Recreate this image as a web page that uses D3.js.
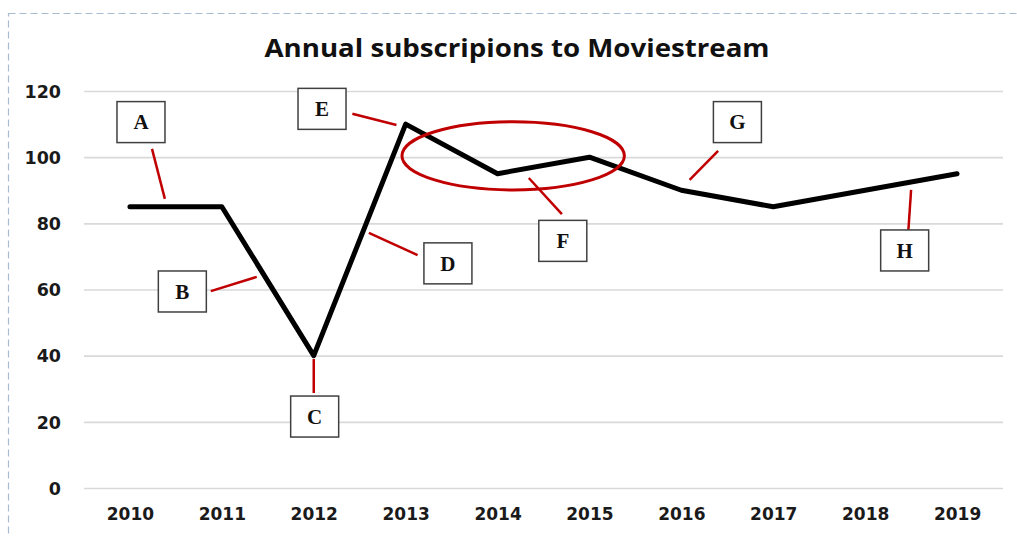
<!DOCTYPE html>
<html>
<head>
<meta charset="utf-8">
<script src="https://cdn.jsdelivr.net/npm/d3@7"></script>
<style>
  body { margin: 0; background: #fff; }
  svg { display: block; }
</style>
</head>
<body>
<svg width="1017" height="536"></svg>
<script>
const years = [2010, 2011, 2012, 2013, 2014, 2015, 2016, 2017, 2018, 2019];
const subscriptions = [85, 85, 40, 110, 95, 100, 90, 85, 90, 95];
const yTicks = [0, 20, 40, 60, 80, 100, 120];

// callout boxes and their leader lines, placed in data units (year, value)
const calloutLetters = ["A", "B", "C", "D", "E", "F", "G", "H"];
const calloutCenters = [[2010.12, 110.6], [2010.57, 59.4], [2012.01, 21.6], [2013.46, 67.9],
                        [2012.09, 114.6], [2014.71, 74.7], [2016.61, 110.6], [2018.43, 71.8]];
const leaderFrom = [[2010.24, 102.5], [2010.88, 59.5], [2012.0, 39.0], [2012.60, 77.1],
                    [2012.42, 113.1], [2014.34, 93.7], [2016.40, 101.9], [2018.50, 90.1]];
const leaderTo = [[2010.38, 87.4], [2011.38, 63.8], [2012.0, 28.7], [2013.13, 70.4],
                  [2012.90, 109.7], [2014.70, 82.8], [2016.09, 93.1], [2018.47, 77.7]];
const ellipseCenter = [2014.17, 100.4];
const ellipseRadii = [1.21, 10.3];

const svg = d3.select("svg");
const margin = {left: 84, right: 14, top: 91, bottom: 48};
const plotW = 1017 - margin.left - margin.right;
const plotH = 536 - margin.top - margin.bottom;

const x = d3.scalePoint().domain(years).range([0, plotW]).padding(0.5);
const step = x.step();
// continuous version of x for callouts
const xc = d3.scaleLinear().domain([years[0], years[0] + 1]).range([x(years[0]), x(years[0]) + step]);
const y = d3.scaleLinear().domain([0, 120]).range([plotH, 0]);

// dashed frame
svg.append("rect")
    .attr("x", 8.5).attr("y", 13.5)
    .attr("width", 1100).attr("height", 700)
    .attr("fill", "none")
    .attr("stroke", "#a9bbd0")
    .attr("stroke-width", 1.2)
    .attr("stroke-dasharray", "7,4");

svg.append("text")
    .attr("x", 517).attr("y", 57)
    .attr("text-anchor", "middle")
    .attr("textLength", 505)
    .attr("lengthAdjust", "spacingAndGlyphs")
    .style("font-family", "'Open Sans', sans-serif")
    .style("font-weight", 700)
    .style("font-size", "25px")
    .attr("fill", "#111")
    .text("Annual subscripions to Moviestream");

const g = svg.append("g").attr("transform", `translate(${margin.left},${margin.top})`);

g.append("g")
    .call(d3.axisLeft(y).tickValues(yTicks).tickSize(-plotW).tickFormat(d3.format("d")))
    .call(a => a.select(".domain").remove())
    .call(a => a.selectAll(".tick line").attr("stroke", "#d9d9d9").attr("stroke-width", 1.6))
    .call(a => a.selectAll(".tick text")
        .attr("x", -23)
        .attr("dy", "0.36em")
        .style("font-family", "'DejaVu Sans', sans-serif")
        .style("font-weight", "bold")
        .style("font-size", "17.5px")
        .attr("fill", "#1a1a1a"));

g.append("g")
    .attr("transform", `translate(0,${plotH})`)
    .call(d3.axisBottom(x).tickSize(0).tickPadding(20))
    .call(a => a.select(".domain").remove())
    .call(a => a.selectAll(".tick text")
        .style("font-family", "'DejaVu Sans', sans-serif")
        .style("font-weight", "bold")
        .style("font-size", "17px")
        .attr("fill", "#1a1a1a"));

const line = d3.line()
    .x((d, i) => x(years[i]))
    .y(d => y(d));

g.append("path")
    .datum(subscriptions)
    .attr("d", line)
    .attr("fill", "none")
    .attr("stroke", "#000")
    .attr("stroke-width", 5)
    .attr("stroke-linejoin", "round")
    .attr("stroke-linecap", "round");

// leader lines
g.selectAll(".leader")
    .data(calloutLetters)
    .join("line")
    .attr("class", "leader")
    .attr("x1", (d, i) => xc(leaderFrom[i][0]))
    .attr("y1", (d, i) => y(leaderFrom[i][1]))
    .attr("x2", (d, i) => xc(leaderTo[i][0]))
    .attr("y2", (d, i) => y(leaderTo[i][1]))
    .attr("stroke", "#c00000")
    .attr("stroke-width", 2.5);

g.append("ellipse")
    .attr("cx", xc(ellipseCenter[0]))
    .attr("cy", y(ellipseCenter[1]))
    .attr("rx", xc(ellipseCenter[0] + ellipseRadii[0]) - xc(ellipseCenter[0]))
    .attr("ry", y(0) - y(ellipseRadii[1]))
    .attr("fill", "none")
    .attr("stroke", "#c00000")
    .attr("stroke-width", 3);

const boxW = 48, boxH = 41;
const callout = g.selectAll(".callout")
    .data(calloutLetters)
    .join("g")
    .attr("class", "callout")
    .attr("transform", (d, i) => `translate(${xc(calloutCenters[i][0])},${y(calloutCenters[i][1])})`);

callout.append("rect")
    .attr("x", -boxW / 2).attr("y", -boxH / 2)
    .attr("width", boxW).attr("height", boxH)
    .attr("fill", "#fff")
    .attr("stroke", "#404040")
    .attr("stroke-width", 1.5);

callout.append("text")
    .attr("text-anchor", "middle")
    .attr("dy", "0.35em")
    .style("font-family", "'Liberation Serif', serif")
    .style("font-weight", "bold")
    .style("font-size", "21px")
    .attr("fill", "#111")
    .text(d => d);
</script>
</body>
</html>
